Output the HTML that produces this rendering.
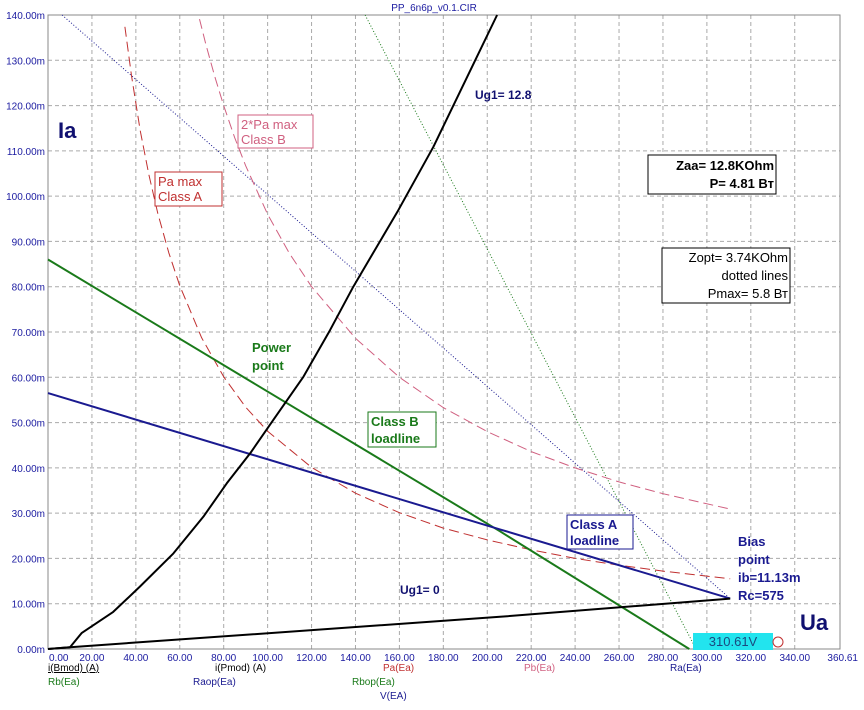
<!DOCTYPE html>
<html><head><meta charset="utf-8">
<style>
body{margin:0;background:#fff;width:864px;height:705px;overflow:hidden;font-family:"Liberation Sans",sans-serif}
svg text{font-family:"Liberation Sans",sans-serif}
</style></head>
<body>
<svg id="chart" width="864" height="705" xmlns="http://www.w3.org/2000/svg">
<g id="grid"></g>
<g id="series"></g>
<g id="ticks"></g>
<text x="434" y="11" font-size="10" fill="#1a1aa0" text-anchor="middle">PP_6n6p_v0.1.CIR</text>
<text x="58" y="138" font-size="22" font-weight="bold" fill="#101070">Ia</text>
<text x="800" y="630" font-size="22" font-weight="bold" fill="#101070">Ua</text>
<text x="475" y="99" font-size="12" font-weight="bold" fill="#101070">Ug1= 12.8</text>
<text x="400" y="594" font-size="12" font-weight="bold" fill="#101070">Ug1= 0</text>
<g>
<rect x="238" y="115" width="75" height="33" fill="#fff" stroke="#d06080"/>
<text x="241" y="129" font-size="13" fill="#d06080">2*Pa max</text>
<text x="241" y="144" font-size="13" fill="#d06080">Class B</text></g>
<g>
<rect x="155" y="172" width="67" height="34" fill="#fff" stroke="#c03030"/>
<text x="158" y="186" font-size="13" fill="#c03030">Pa max</text>
<text x="158" y="201" font-size="13" fill="#c03030">Class A</text></g>
<g>
<rect x="648" y="155" width="128" height="39" fill="#fff" stroke="#000"/>
<text x="774" y="170" font-size="13" font-weight="bold" text-anchor="end">Zaa= 12.8KOhm</text>
<text x="774" y="188" font-size="13" font-weight="bold" text-anchor="end">P= 4.81 Вт</text></g>
<g>
<rect x="662" y="248" width="128" height="55" fill="#fff" stroke="#000"/>
<text x="788" y="262" font-size="13" text-anchor="end">Zopt= 3.74KOhm</text>
<text x="788" y="280" font-size="13" text-anchor="end">dotted lines</text>
<text x="788" y="298" font-size="13" text-anchor="end">Pmax= 5.8 Вт</text></g>
<g>
<text x="252" y="352" font-size="13" font-weight="bold" fill="#1a7a1a">Power</text>
<text x="252" y="370" font-size="13" font-weight="bold" fill="#1a7a1a">point</text></g>
<g>
<rect x="368" y="412" width="68" height="35" fill="#fff" stroke="#1a7a1a"/>
<text x="371" y="426" font-size="13" font-weight="bold" fill="#1a7a1a">Class B</text>
<text x="371" y="443" font-size="13" font-weight="bold" fill="#1a7a1a">loadline</text></g>
<g>
<rect x="567" y="515" width="66" height="34" fill="#fff" stroke="#1a1a90"/>
<text x="570" y="529" font-size="13" font-weight="bold" fill="#1a1a90">Class A</text>
<text x="570" y="545" font-size="13" font-weight="bold" fill="#1a1a90">loadline</text></g>
<g font-size="13" font-weight="bold" fill="#1a1a90">
<text x="738" y="546">Bias</text><text x="738" y="564">point</text>
<text x="738" y="582">ib=11.13m</text><text x="738" y="600">Rc=575</text></g>
<g>
<rect x="693" y="633" width="80" height="17" fill="#22e4ee"/>
<text x="733" y="646" font-size="13" fill="#1a4a80" text-anchor="middle">310.61V</text>
<circle cx="778" cy="642" r="5" fill="none" stroke="#c03030"/></g>
<g font-size="10">
<text x="48" y="671" fill="#000" text-decoration="underline">i(Bmod) (A)</text>
<text x="48" y="685" fill="#1a7a1a">Rb(Ea)</text>
<text x="215" y="671" fill="#000">i(Pmod) (A)</text>
<text x="193" y="685" fill="#1a1a90">Raop(Ea)</text>
<text x="383" y="671" fill="#c03030">Pa(Ea)</text>
<text x="352" y="685" fill="#1a7a1a">Rbop(Ea)</text>
<text x="380" y="699" fill="#1a1a90">V(EA)</text>
<text x="524" y="671" fill="#d06080">Pb(Ea)</text>
<text x="670" y="671" fill="#1a1a90">Ra(Ea)</text></g>
</svg>
<script>
const xTicks=[0,20,40,60,80,100,120,140,160,180,200,220,240,260,280,300,320,340,360.61];
const yTicks=[0,10,20,30,40,50,60,70,80,90,100,110,120,130,140];
const ug128V=[0,10,15.3,29.7,41.9,57.1,70.7,81.4,92,102.6,116.3,128.4,139,159.5,175.5,194.5,204.5];
const ug128I=[0,0.4,3.5,8.2,13.8,21.1,29.2,36.6,43.2,50.6,60.1,70.4,80,96.9,110.9,130,140];
const ug10V=[0,10,205.8,310.6];
const ug10I=[0,0.4,7.1,11.13];
const loadAV=[0,205.8,310.6];
const loadAI=[56.5,26.4,11.13];
const loadBV=[0,205.8,292];
const loadBI=[86,26,0];
const zoptAV=[6.4,310.6];
const zoptAI=[140,11.13];
const zoptBV=[144.4,294];
const zoptBI=[140,1];
const paAV=[35,38,42,46,50,55,60,70,80,90,100,120,140,160,180,200,220,240,260,280,310.6];
const paAI=[137.4,126.6,114.5,104.6,96.2,87.5,80.2,68.7,60.1,53.4,48.1,40.1,34.4,30.1,26.7,24.1,21.9,20.0,18.5,17.2,15.5];
const pbV=[69,72,76,80,85,90,100,110,120,140,160,180,200,220,240,260,280,310.6];
const pbI=[139.1,133.3,126.3,120,112.9,106.7,96,87.3,80,68.6,60,53.3,48,43.6,40,36.9,34.3,30.9];
const X0=48,X1=840,Y0=649,Y1=15,XMAX=360.61,YMAX=140;
const sx=v=>X0+v/XMAX*(X1-X0), sy=v=>Y0-v/YMAX*(Y0-Y1);
const NS='http://www.w3.org/2000/svg';
function mk(tag,parent,attrs){const e=document.createElementNS(NS,tag);for(const k in attrs)e.setAttribute(k,attrs[k]);parent.appendChild(e);return e;}
const grid=document.getElementById('grid'),ticks=document.getElementById('ticks'),ser=document.getElementById('series');
xTicks.forEach((v,i)=>{
 if(i>0&&i<xTicks.length-1){const l=mk('line',grid,{x1:sx(v),x2:sx(v),y1:Y1,y2:Y0,stroke:'#aaa','stroke-dasharray':'4,3'});
 
 }
 const anchor=i==0?'start':(i==xTicks.length-1?'end':'middle');
 const t=mk('text',ticks,{x:i==0?49:(i==xTicks.length-1?858:sx(v)),y:661,'font-size':10,fill:'#1a1aa0','text-anchor':anchor});
 t.textContent=v.toFixed(2);
 
 
});
yTicks.forEach((v,i)=>{
 if(i>0&&i<yTicks.length-1){const l=mk('line',grid,{x1:X0,x2:X1,y1:sy(v),y2:sy(v),stroke:'#aaa','stroke-dasharray':'4,3'});
 
 }
 const t=mk('text',ticks,{x:45,y:sy(v)+4,'font-size':10,fill:'#1a1aa0','text-anchor':'end'});
 t.textContent=v.toFixed(2)+'m';
 
 
});
const frame=mk('rect',grid,{x:X0,y:Y1,width:X1-X0,height:Y0-Y1,fill:'none',stroke:'#888'});


function line(V,I,name,st){const d=V.map((v,i)=>(i?'L':'M')+sx(v).toFixed(1)+','+sy(I[i]).toFixed(1)).join(' ');
 const p=mk('path',ser,Object.assign({d:d,fill:'none','stroke-linejoin':'round'},st));
 
 }
line(zoptAV,zoptAI,'zopt-a-dotted',{stroke:'#1a1a90','stroke-width':1,'stroke-dasharray':'1,2'});
line(zoptBV,zoptBI,'zopt-b-dotted',{stroke:'#1a7a1a','stroke-width':1,'stroke-dasharray':'1,2'});
line(paAV,paAI,'pa-max-class-a',{stroke:'#c03030','stroke-width':1,'stroke-dasharray':'10,5'});
line(pbV,pbI,'pa-max-class-b',{stroke:'#d06080','stroke-width':1,'stroke-dasharray':'10,5'});
line(loadBV,loadBI,'class-b-loadline',{stroke:'#1a7a1a','stroke-width':2});
line(loadAV,loadAI,'class-a-loadline',{stroke:'#1a1a90','stroke-width':2});
line(ug10V,ug10I,'ug1-0-curve',{stroke:'#000','stroke-width':2});
line(ug128V,ug128I,'ug1-12-8-curve',{stroke:'#000','stroke-width':2});
</script>
</body></html>
